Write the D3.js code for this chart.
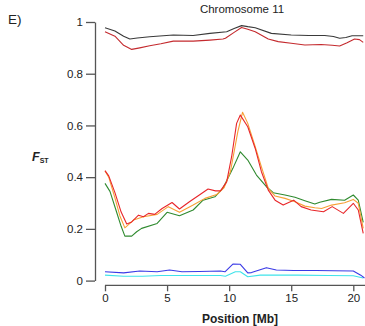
<!DOCTYPE html>
<html>
<head>
<meta charset="utf-8">
<script src="https://cdn.jsdelivr.net/npm/d3@7"></script>
<style>
  body { margin: 0; background: #fff; }
  svg { display: block; font-family: "Liberation Sans", Arial, sans-serif; }
</style>
</head>
<body>
<div id="chart"></div>
<script>
// F_ST along chromosome 11, [position Mb, value]
const blackTop = [[0,0.978],[0.8,0.965],[1.5,0.945],[2.0,0.934],[2.6,0.938],[3.6,0.943],[5.5,0.950],[7.1,0.948],[8.45,0.956],[9.8,0.962],[10.4,0.975],[11.0,0.986],[11.5,0.982],[12.1,0.978],[13.4,0.956],[15.0,0.950],[16.4,0.948],[17.7,0.948],[18.4,0.944],[18.9,0.937],[19.4,0.940],[19.9,0.947],[20.8,0.947]];
const redTop = [[0,0.962],[0.8,0.945],[1.5,0.910],[2.15,0.894],[2.8,0.900],[3.6,0.908],[4.5,0.916],[5.5,0.926],[7.1,0.926],[8.45,0.930],[9.5,0.934],[9.7,0.937],[10.4,0.960],[11.0,0.979],[11.5,0.972],[12.1,0.962],[13.15,0.934],[13.95,0.924],[15.0,0.918],[16.1,0.911],[17.4,0.913],[18.3,0.910],[18.9,0.907],[19.5,0.920],[20.1,0.934],[20.5,0.932],[20.8,0.921]];
const redMid = [[0,0.425],[0.3,0.405],[0.8,0.340],[1.3,0.265],[1.75,0.219],[2.15,0.227],[2.7,0.253],[3.1,0.247],[3.5,0.260],[4.0,0.256],[4.6,0.279],[5.4,0.302],[6.0,0.277],[6.8,0.305],[7.6,0.331],[8.3,0.354],[8.9,0.347],[9.3,0.347],[9.8,0.382],[10.2,0.479],[10.6,0.608],[10.9,0.640],[11.5,0.595],[12.1,0.511],[12.6,0.421],[13.15,0.350],[13.7,0.311],[14.35,0.292],[15.2,0.311],[15.8,0.286],[16.6,0.273],[17.6,0.266],[18.3,0.286],[19.2,0.260],[20.0,0.299],[20.4,0.273],[20.8,0.183]];
const orangeMid = [[0,0.424],[0.3,0.400],[0.8,0.320],[1.2,0.250],[1.6,0.204],[2.3,0.234],[3.1,0.247],[4.2,0.256],[5.1,0.286],[6.0,0.264],[7.1,0.292],[8.05,0.318],[9.0,0.333],[9.6,0.360],[10.1,0.421],[10.7,0.576],[11.08,0.651],[11.5,0.608],[12.1,0.518],[12.6,0.440],[13.15,0.357],[13.7,0.327],[14.5,0.318],[15.3,0.305],[16.1,0.288],[16.9,0.282],[17.45,0.279],[18.25,0.292],[19.3,0.301],[20.0,0.314],[20.4,0.299],[20.8,0.202]];
const greenMid = [[0,0.376],[0.4,0.345],[0.9,0.270],[1.3,0.210],[1.6,0.172],[2.15,0.172],[2.55,0.189],[2.95,0.202],[4.2,0.221],[5.0,0.264],[6.0,0.251],[7.1,0.273],[7.9,0.311],[8.85,0.324],[9.5,0.357],[10.3,0.434],[10.9,0.498],[11.5,0.466],[12.2,0.408],[13.0,0.363],[13.55,0.340],[14.5,0.331],[15.3,0.322],[16.1,0.309],[16.9,0.296],[17.3,0.303],[18.25,0.314],[19.3,0.311],[20.0,0.331],[20.4,0.311],[20.8,0.225]];
const blueLow = [[0,0.034],[1.5,0.030],[2.8,0.037],[4.2,0.034],[5.2,0.041],[6.2,0.034],[7.6,0.035],[9.3,0.037],[9.66,0.034],[10.3,0.064],[10.9,0.063],[11.5,0.030],[11.8,0.031],[13.0,0.050],[13.8,0.041],[15.2,0.039],[17.0,0.039],[18.4,0.038],[20.0,0.037],[20.6,0.021],[20.9,0.010]];
const cyanLow = [[0,0.021],[1.5,0.017],[3.0,0.017],[4.5,0.020],[7.0,0.020],[9.3,0.020],[9.7,0.017],[10.5,0.034],[10.9,0.034],[11.5,0.015],[12.5,0.021],[15.5,0.021],[18.0,0.020],[20.0,0.019],[20.8,0.010]];

const series = [
  { data: cyanLow, color: "#3fe3ea" },
  { data: blueLow, color: "#3a3ae6" },
  { data: greenMid, color: "#2f8a2f" },
  { data: orangeMid, color: "#f7a035" },
  { data: redMid, color: "#e8262a" },
  { data: blackTop, color: "#3a3a3a" },
  { data: redTop, color: "#c42a2e" }
];

const xTicks = [0, 5, 10, 15, 20];
const yTicks = [0, 0.2, 0.4, 0.6, 0.8, 1];

const width = 365, height = 326;

const svg = d3.select("#chart").append("svg")
  .attr("width", width)
  .attr("height", height);

const x = d3.scaleLinear().domain([0, 20]).range([105, 353.3]);
const y = d3.scaleLinear().domain([0, 1]).range([280.6, 22]);

const line = d3.line()
  .x(d => x(d[0]))
  .y(d => y(d[1]));

series.forEach(s => {
  svg.append("path")
    .datum(s.data)
    .attr("fill", "none")
    .attr("stroke", s.color)
    .attr("stroke-width", 1.1)
    .attr("stroke-linejoin", "round")
    .attr("d", line);
});

// y axis
const yAxis = svg.append("g")
  .attr("transform", "translate(95,0)")
  .call(d3.axisLeft(y).tickValues(yTicks).tickFormat(d3.format("")).tickSize(9).tickPadding(3).tickSizeOuter(0));

// x axis
const xAxis = svg.append("g")
  .attr("transform", "translate(0,285.3)")
  .call(d3.axisBottom(x).tickValues(xTicks).tickSize(6).tickPadding(3).tickSizeOuter(0));
xAxis.select(".domain").attr("d", "M" + x(0) + ",0H" + x(21.2));

[yAxis, xAxis].forEach(g => {
  g.select(".domain").attr("stroke", "#555").attr("stroke-width", 1.3);
  g.selectAll(".tick line").attr("stroke", "#555").attr("stroke-width", 1.3);
  g.selectAll(".tick text")
    .attr("fill", "#222")
    .style("font-size", "11.5px")
    .style("font-family", "'Liberation Sans', Arial, sans-serif");
});

svg.append("text")
  .attr("x", 242).attr("y", 13)
  .attr("text-anchor", "middle")
  .style("font-size", "11.5px")
  .attr("fill", "#222")
  .text("Chromosome 11");

svg.append("text")
  .attr("x", 8).attr("y", 24)
  .style("font-size", "13.5px")
  .attr("fill", "#222")
  .text("E)");

svg.append("text")
  .attr("x", 240).attr("y", 323)
  .attr("text-anchor", "middle")
  .style("font-size", "12px")
  .style("font-weight", "bold")
  .attr("fill", "#222")
  .text("Position [Mb]");

const fst = svg.append("text")
  .attr("x", 32).attr("y", 161)
  .attr("fill", "#222")
  .style("font-weight", "bold");
fst.append("tspan").style("font-size", "12.5px").style("font-style", "italic").text("F");
fst.append("tspan").attr("dy", 2).style("font-size", "7px").text("ST");
</script>
</body>
</html>
